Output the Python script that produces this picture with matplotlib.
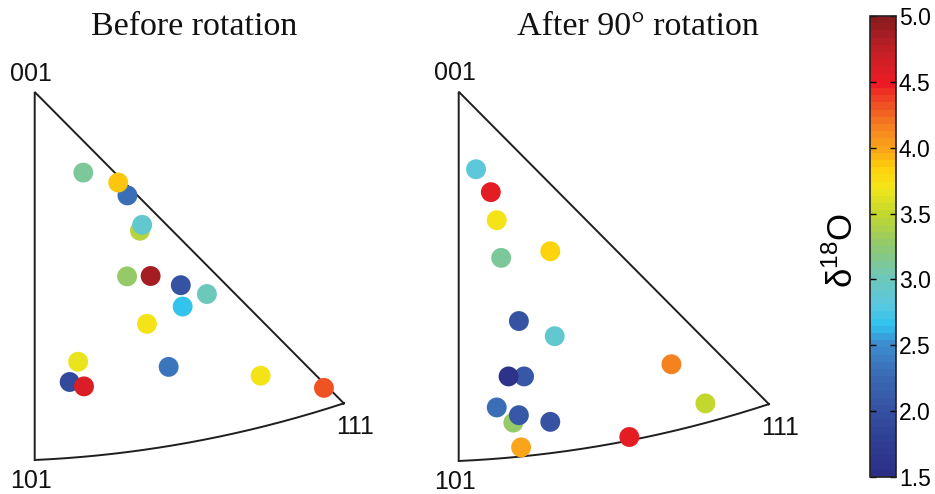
import numpy as np
import matplotlib
matplotlib.use("Agg")
import matplotlib.pyplot as plt
from matplotlib.colors import LinearSegmentedColormap, Normalize

# Grain c-axis positions inside the inverse pole figure triangle,
# in units of the 001-101 edge length (101 at origin, 001 at (0, 1)).
before_x = [0.132, 0.252, 0.227, 0.286, 0.292, 0.251, 0.315, 0.397, 0.468,
            0.402, 0.305, 0.118, 0.364, 0.614, 0.095, 0.134, 0.786]
before_y = [0.781, 0.719, 0.754, 0.623, 0.639, 0.499, 0.500, 0.475, 0.451,
            0.417, 0.370, 0.267, 0.253, 0.229, 0.212, 0.200, 0.196]
before_d18o = [3.10, 2.30, 3.90, 3.45, 2.90, 3.30, 4.85, 2.00, 3.00,
               2.65, 3.70, 3.65, 2.35, 3.70, 1.90, 4.60, 4.30]

after_x = [0.047, 0.087, 0.103, 0.115, 0.248, 0.163, 0.260, 0.576, 0.177,
           0.135, 0.668, 0.103, 0.148, 0.163, 0.248, 0.462, 0.169]
after_y = [0.790, 0.728, 0.652, 0.550, 0.568, 0.379, 0.338, 0.262, 0.229,
           0.229, 0.156, 0.145, 0.104, 0.124, 0.106, 0.065, 0.037]
after_d18o = [2.85, 4.55, 3.70, 3.10, 3.85, 2.00, 2.90, 4.15, 2.10,
              1.60, 3.50, 2.30, 3.30, 2.05, 2.00, 4.55, 4.00]

titles = ["Before rotation", "After 90\u00b0 rotation"]
vertex_labels = ["001", "101", "111"]
cbar_ticks = [1.5, 2.0, 2.5, 3.0, 3.5, 4.0, 4.5, 5.0]
vmin, vmax = 1.5, 5.0

# Muted jet-style palette, quantised into 64 steps
anchors = [
    (1.50, "#2b2f85"), (1.80, "#2f4296"), (2.00, "#3652a3"), (2.25, "#3a6ab3"),
    (2.50, "#3c8ed0"), (2.65, "#2fc2ef"), (2.80, "#5ac8df"), (3.00, "#6dc8bc"),
    (3.25, "#8fc870"), (3.50, "#c3d82e"), (3.70, "#f2e619"), (3.85, "#fdd10b"),
    (4.00, "#f9a51b"), (4.20, "#f47a20"), (4.35, "#f04e23"), (4.50, "#ed1c24"),
    (4.75, "#c51f26"), (5.00, "#8a1b1e"),
]
cmap = LinearSegmentedColormap.from_list(
    "d18o", [((v - vmin) / (vmax - vmin), c) for v, c in anchors], N=64)
norm = Normalize(vmin, vmax)

W, H = 935, 494
fig = plt.figure(figsize=(W / 100, H / 100), dpi=100)

# Triangle vertices in the stereographic projection (001 at centre)
std_101 = np.array([np.tan(np.pi / 8), 0.0])
corner_111 = np.array([0.84, 0.154])


def stereo(v):
    v = np.asarray(v, float) / np.linalg.norm(v, axis=-1, keepdims=True)
    return v[..., :2] / (1 + v[..., 2:3])


std_111 = stereo(np.array([1.0, 1.0, 1.0]))
# affine map: projection -> panel units (001 -> (0,1), 101 -> (0,0), 111 -> corner)
col1 = np.array([0.0, -1.0]) / std_101[0]
col2 = (corner_111 - np.array([0.0, 1.0]) - col1 * std_111[0]) / std_111[1]
M = np.column_stack([col1, col2])
b = np.array([0.0, 1.0])

# great circle 101 -> 111 lies in the plane z = x
t = np.linspace(0, np.arcsin(1 / np.sqrt(3)), 200)
gc = np.column_stack([np.cos(t) / np.sqrt(2), np.sin(t), np.cos(t) / np.sqrt(2)])
arc = stereo(gc) @ M.T + b

# panel origin (101 corner) in figure pixels and scale
panels = [((34.7, 34.0), 368.0), ((458.7, 33.0), 369.3)]
xlim, ylim = (-0.12, 1.05), (-0.12, 1.12)

data = [(before_x, before_y, before_d18o), (after_x, after_y, after_d18o)]
title_x = [194, 637.5]

for (org, s), (xs, ys, vs), title, tx in zip(panels, data, titles, title_x):
    ax = fig.add_axes([(org[0] + xlim[0] * s) / W, (org[1] + ylim[0] * s) / H,
                       (xlim[1] - xlim[0]) * s / W, (ylim[1] - ylim[0]) * s / H])
    ax.set_xlim(xlim)
    ax.set_ylim(ylim)
    ax.axis("off")
    outline_x = [corner_111[0], 0, 0] + list(arc[:, 0]) + [corner_111[0]]
    outline_y = [corner_111[1], 1, 0] + list(arc[:, 1]) + [corner_111[1]]
    ax.plot(outline_x, outline_y, color="#1e1e1e", lw=1.4, clip_on=False,
            solid_joinstyle="miter", zorder=1)
    ax.scatter(xs, ys, c=vs, cmap=cmap, norm=norm, s=205, edgecolors="none",
               zorder=2, clip_on=False)
    lab_kw = dict(fontsize=18, family="Liberation Sans", color="#111111",
                  ha="center", va="center")
    ax.text(-0.01, 1.05, vertex_labels[0], **lab_kw)
    ax.text(-0.01, -0.058, vertex_labels[1], **lab_kw)
    ax.text(corner_111[0] + 0.03, corner_111[1] - 0.065, vertex_labels[2], **lab_kw)
    fig.text(tx / W, 1 - 27 / H, title, fontsize=24.5, family="Liberation Serif",
             ha="center", va="center", color="#111111")

# colour bar
cax = fig.add_axes([870 / W, 17 / H, 26 / W, 461 / H])
cb = fig.colorbar(plt.cm.ScalarMappable(norm=norm, cmap=cmap), cax=cax,
                  ticks=cbar_ticks)
cb.outline.set_linewidth(1.2)
cb.outline.set_edgecolor("#222222")
cax.tick_params(axis="y", direction="in", length=4, width=1, left=True, right=True,
                labelright=True, labelleft=False, pad=2, labelsize=16.5)
cax.set_yticklabels([f"{v:.1f}" for v in cbar_ticks], family="Liberation Sans")
fig.text(842 / W, 1 - 250 / H, "\u03b4$^{\\mathregular{18}}$O", rotation=90,
         fontsize=25, family="Liberation Sans", ha="center", va="center")

fig.savefig("out.png", dpi=100)
